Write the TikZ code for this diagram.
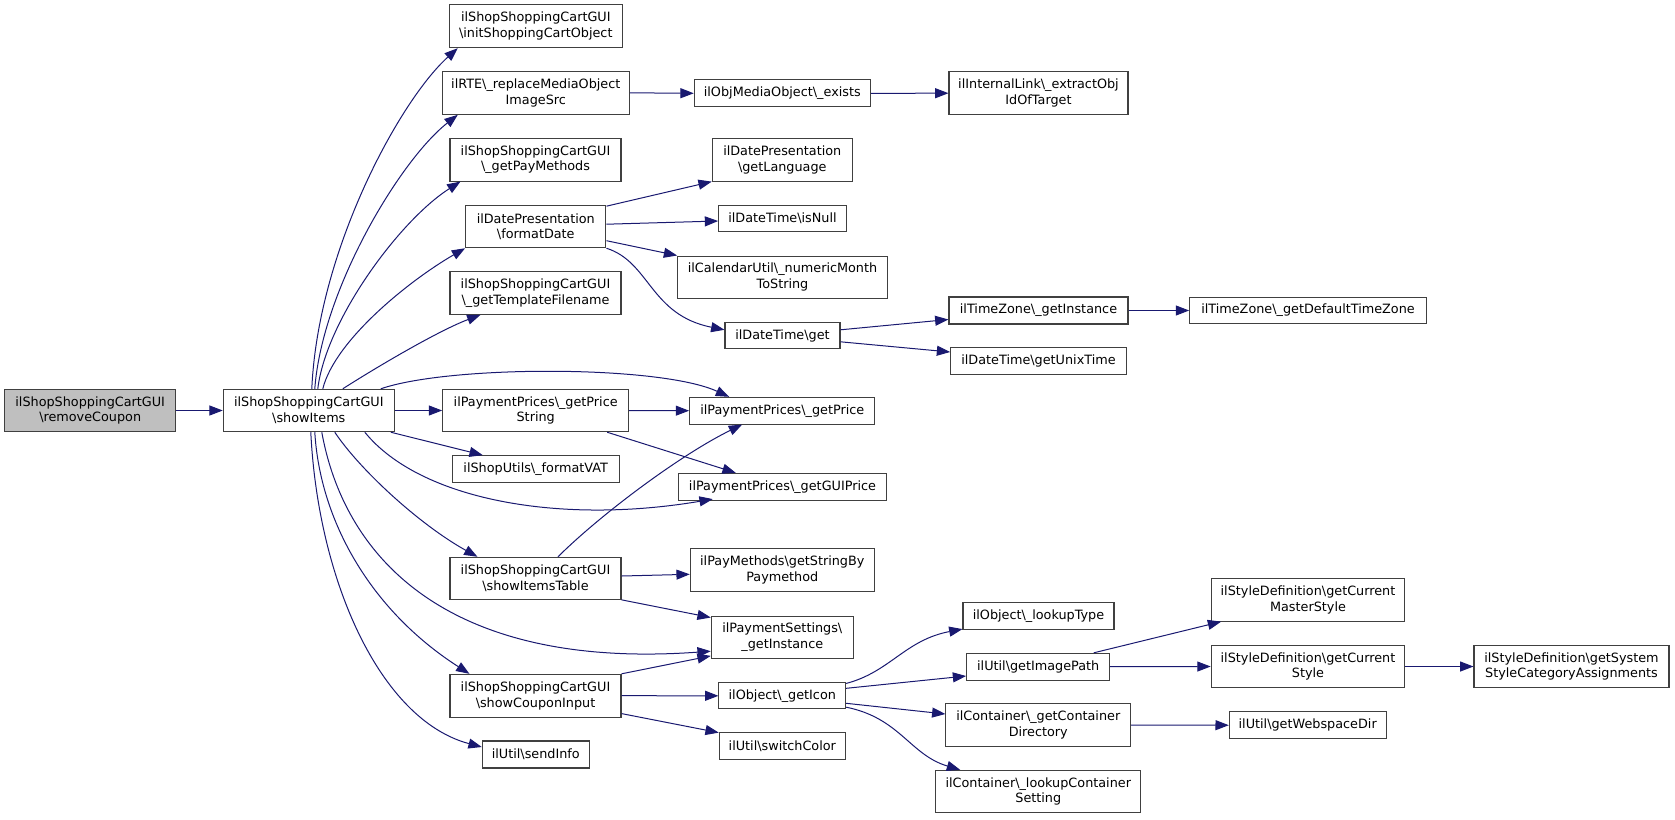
\documentclass[tikz,border=0pt]{standalone}
\usepackage{fontspec}
\setmainfont{DejaVu Sans}
\usetikzlibrary{arrows.meta,calc}
\definecolor{edgec}{RGB}{25,25,112}
\definecolor{boxc}{RGB}{64,64,64}
\definecolor{rootc}{RGB}{191,191,191}
\newcommand{\bsl}{\textbackslash}
\newcommand{\fnbox}[6]{\node[fn,minimum width=#4*0.75pt,minimum height=#5*0.75pt] (#1) at (#2,#3) {#6};}
\begin{document}
\begin{tikzpicture}[x=0.75pt,y=-0.75pt,
  fn/.style={draw=boxc,line width=0.8pt,fill=white,inner sep=0pt,align=center,font=\fontsize{9.6}{11.8}\selectfont},
  root/.style={fn,fill=rootc},
  call/.style={draw=edgec,line width=0.75pt,-{Triangle[length=10pt,width=7.5pt]}}]
\useasboundingbox (0,0) rectangle (1675,819);

% column 0/1
\node[root,minimum width=171*0.75pt,minimum height=42.4*0.75pt] (rc) at (90.2,410.5) {ilShopShoppingCartGUI\\\bsl removeCoupon};
\fnbox{si}{308.8}{410.5}{171}{42.4}{ilShopShoppingCartGUI\\\bsl showItems}

% column 2
\fnbox{init}{535.8}{26.3}{173}{42.7}{ilShopShoppingCartGUI\\\bsl initShoppingCartObject}
\fnbox{rte}{535.8}{92.8}{187}{43}{ilRTE\bsl\_replaceMediaObject\\ImageSrc}
\fnbox{pm}{535.5}{159.7}{171}{42.7}{ilShopShoppingCartGUI\\\bsl\_getPayMethods}
\fnbox{fd}{535.8}{226.7}{140.3}{42}{ilDatePresentation\\\bsl formatDate}
\fnbox{tf}{535.5}{293}{171}{42.7}{ilShopShoppingCartGUI\\\bsl\_getTemplateFilename}
\fnbox{ps}{535.7}{410.5}{186}{42.4}{ilPaymentPrices\bsl\_getPrice\\String}
\fnbox{vat}{535.7}{469.2}{166.7}{27}{ilShopUtils\bsl\_formatVAT}
\fnbox{sit}{535.5}{578.3}{171}{42}{ilShopShoppingCartGUI\\\bsl showItemsTable}
\fnbox{sci}{535.5}{695.7}{171}{42.7}{ilShopShoppingCartGUI\\\bsl showCouponInput}
\fnbox{send}{535.8}{754.5}{107}{27}{ilUtil\bsl sendInfo}

% column 3
\fnbox{ex}{782.3}{93.3}{176}{26.7}{ilObjMediaObject\bsl\_exists}
\fnbox{lang}{782.3}{159.7}{140}{42.7}{ilDatePresentation\\\bsl getLanguage}
\fnbox{isnull}{782.5}{218.7}{127.6}{26}{ilDateTime\bsl isNull}
\fnbox{month}{782.5}{277.2}{209.6}{42.3}{ilCalendarUtil\bsl\_numericMonth\\ToString}
\fnbox{dtget}{782.5}{335.8}{115}{26.3}{ilDateTime\bsl get}
\fnbox{price}{782.3}{410.7}{185.3}{26.7}{ilPaymentPrices\bsl\_getPrice}
\fnbox{gui}{782.5}{486.7}{208.4}{26.7}{ilPaymentPrices\bsl\_getGUIPrice}
\fnbox{paym}{782.3}{570.3}{184}{42.7}{ilPayMethods\bsl getStringBy\\Paymethod}
\fnbox{pset}{782.3}{637.2}{142}{42.3}{ilPaymentSettings\bsl\\\_getInstance}
\fnbox{icon}{782.3}{695.8}{126.7}{26.3}{ilObject\bsl\_getIcon}
\fnbox{swc}{782.3}{746.3}{126}{27.3}{ilUtil\bsl switchColor}

% column 4
\fnbox{extract}{1038.5}{93.2}{179}{43}{ilInternalLink\bsl\_extractObj\\IdOfTarget}
\fnbox{tzi}{1038.5}{310.5}{179}{27}{ilTimeZone\bsl\_getInstance}
\fnbox{unix}{1038.5}{361}{175.6}{27}{ilDateTime\bsl getUnixTime}
\fnbox{look}{1038.5}{615.7}{151}{26.7}{ilObject\bsl\_lookupType}
\fnbox{img}{1038.2}{666.7}{143}{26.7}{ilUtil\bsl getImagePath}
\fnbox{cdir}{1038.3}{725}{184.7}{42.6}{ilContainer\bsl\_getContainer\\Directory}
\fnbox{cset}{1038.3}{791.5}{205.3}{42.4}{ilContainer\bsl\_lookupContainer\\Setting}

% column 5
\fnbox{tzd}{1308}{310.5}{236.6}{26.4}{ilTimeZone\bsl\_getDefaultTimeZone}
\fnbox{master}{1308}{599.8}{193.6}{42.6}{ilStyleDefinition\bsl getCurrent\\MasterStyle}
\fnbox{cstyle}{1308}{666.5}{193.6}{42.6}{ilStyleDefinition\bsl getCurrent\\Style}
\fnbox{web}{1307.7}{725.2}{156.7}{27}{ilUtil\bsl getWebspaceDir}

% column 6
\fnbox{sys}{1571.5}{666.5}{195}{42.6}{ilStyleDefinition\bsl getSystem\\StyleCategoryAssignments}

% edges
\draw[call] (rc.east) -- (si.west);
\draw[call] ($(si.north)+(3,0)$) .. controls (318,250) and (400,100) .. ($(init.south west)+(9,0)$);
\draw[call] ($(si.north)+(6,0)$) .. controls (322,290) and (400,160) .. ($(rte.south west)+(16,0)$);
\draw[call] ($(si.north)+(9,0)$) .. controls (326,320) and (400,220) .. ($(pm.south west)+(11,0)$);
\draw[call] ($(si.north)+(14,0)$) .. controls (335,340) and (410,280) .. (fd.south west);
\draw[call] ($(si.north)+(34,0)$) .. controls (380,365) and (440,330) .. ($(tf.south west)+(31,0)$);
\draw[call] ($(si.north east)+(-14,0)$) .. controls (450,365) and (660,365) .. ($(price.north west)+(40,0)$);
\draw[call] (si.east) -- (ps.west);
\draw[call] ($(si.south east)+(-4,0)$) -- ($(vat.north west)+(31,0)$);
\draw[call] ($(si.south east)+(-30,0)$) .. controls (420,500) and (560,525) .. ($(gui.south west)+(35,-1.5)$);
\draw[call] ($(si.south)+(26,0)$) .. controls (360,470) and (420,525) .. ($(sit.north west)+(28,0)$);
\draw[call] ($(si.south)+(13,0)$) .. controls (345,560) and (450,670) .. ($(pset.west)+(0,14)$);
\draw[call] ($(si.south)+(6,0)$) .. controls (320,520) and (370,610) .. ($(sci.north west)+(20,0)$);
\draw[call] ($(si.south)+(2,0)$) .. controls (318,580) and (380,720) .. ($(send.west)+(0,-7.5)$);

\draw[call] (rte.east) -- (ex.west);
\draw[call] (ex.east) -- (extract.west);
\draw[call] ($(fd.north east)+(0,1)$) -- (lang.south west);
\draw[call] ($(fd.east)+(0,-2.5)$) -- ($(isnull.west)+(0,2.3)$);
\draw[call] ($(fd.east)+(0,14)$) -- (month.north west);
\draw[call] (fd.south east) .. controls (650,262) and (650,315) .. ($(dtget.west)+(0,-6)$);
\draw[call] ($(dtget.east)+(0,-6)$) -- ($(tzi.west)+(0,9)$);
\draw[call] ($(dtget.east)+(0,6)$) -- ($(unix.west)+(0,-9)$);
\draw[call] (tzi.east) -- (tzd.west);

\draw[call] (ps.east) -- (price.west);
\draw[call] ($(ps.south east)+(-22,0)$) -- ($(gui.north west)+(58,0)$);
\draw[call] ($(sit.north)+(22.5,0)$) .. controls (600,515) and (680,455) .. ($(price.south west)+(53,0)$);
\draw[call] ($(sit.east)+(0,-2.3)$) -- ($(paym.west)+(0,4)$);
\draw[call] (sit.south east) -- ($(pset.north west)+(0,2)$);
\draw[call] (sci.north east) -- ($(pset.south west)+(0,-3)$);
\draw[call] (sci.east) -- (icon.west);
\draw[call] ($(sci.south east)+(0,-4)$) -- ($(swc.north west)+(0,0.5)$);

\draw[call] ($(icon.north east)+(0,1.3)$) .. controls (890,672) and (905,640) .. ($(look.south west)+(0,-0.5)$);
\draw[call] ($(icon.east)+(0,-7.5)$) -- ($(img.west)+(0,9.3)$);
\draw[call] ($(icon.east)+(0,7.5)$) -- ($(cdir.west)+(0,-11)$);
\draw[call] ($(icon.south east)+(0,-2.3)$) .. controls (900,718) and (910,755) .. ($(cset.north west)+(25,0)$);
\draw[call] ($(img.north east)+(-16.5,0)$) -- ($(master.south west)+(10.5,0)$);
\draw[call] (img.east) -- (cstyle.west);
\draw[call] (cstyle.east) -- (sys.west);
\draw[call] (cdir.east) -- (web.west);
\end{tikzpicture}
\end{document}
